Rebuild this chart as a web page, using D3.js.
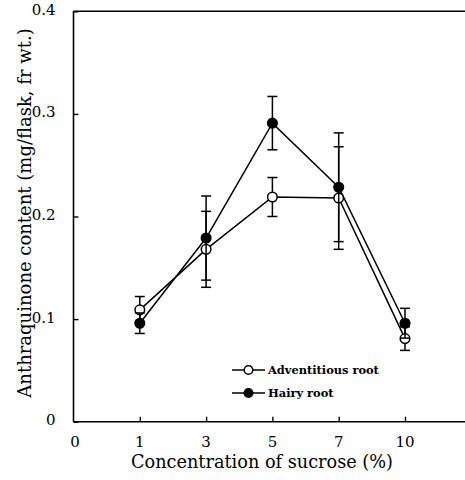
<!DOCTYPE html>
<html><head><meta charset="utf-8">
<script src="https://cdn.jsdelivr.net/npm/d3@7"></script>
<style>body{margin:0;background:#fff}svg{display:block}</style>
</head><body>
<svg id="c" width="465" height="480"></svg>
<script>
const categories = ["0","1","3","5","7","10"];
const dataCats = ["1","3","5","7","10"];
const adventitious = [0.109, 0.168, 0.219, 0.218, 0.081];
const adventitiousErr = [0.013, 0.037, 0.019, 0.050, 0.0115];
const hairy = [0.096, 0.179, 0.291, 0.2285, 0.096];
const hairyErr = [0.010, 0.041, 0.026, 0.053, 0.0145];
const yTicks = [0, 0.1, 0.2, 0.3, 0.4];
const yTickLabels = ["0", "0.1", "0.2", "0.3", "0.4"];

const svg = d3.select("#c");
const font = "'DejaVu Serif', 'Liberation Serif', serif";
const L = 73.5, T = 11.3, B = 421.7, R = 465;
const x = d3.scalePoint().domain(categories).range([L, 405]).padding(0);
const y = d3.scaleLinear().domain([0, 0.4]).range([B, T]);

// frame
svg.append("line").attr("x1", L).attr("x2", R).attr("y1", T).attr("y2", T).attr("stroke", "#000").attr("stroke-width", 1.6);
svg.append("line").attr("x1", L).attr("x2", L).attr("y1", T).attr("y2", B).attr("stroke", "#000").attr("stroke-width", 1.6);

// axes
const xAxis = d3.axisBottom(x).tickValues(dataCats).tickSizeInner(-5).tickSizeOuter(0).tickFormat("");
const gx = svg.append("g").attr("transform", `translate(0,${B})`).call(xAxis);
gx.select(".domain").attr("d", `M${L},0H${R}`).attr("stroke-width", 1.6);
gx.selectAll(".tick line").attr("stroke-width", 1.4);
svg.append("g").selectAll("text").data(categories).join("text")
  .attr("x", d => x(d) + (d === "0" ? 1.5 : 0)).attr("y", 447)
  .attr("text-anchor", "middle").attr("font-family", font).attr("font-size", 15)
  .text(d => d);

const yAxis = d3.axisLeft(y).tickValues(yTicks).tickSizeInner(-5).tickSizeOuter(0).tickFormat((d, i) => yTickLabels[i]).tickPadding(18);
const gy = svg.append("g").attr("transform", `translate(${L},0)`).call(yAxis);
gy.select(".domain").remove();
gy.selectAll(".tick line").attr("stroke-width", 1.4);
gy.selectAll(".tick text").attr("font-family", font).attr("font-size", 15).attr("fill", "#000").attr("dy", "0.2em");

// titles
svg.append("text").attr("x", 262).attr("y", 468).attr("text-anchor", "middle")
  .attr("font-family", font).attr("font-size", 17.7).text("Concentration of sucrose (%)");
svg.append("text").attr("transform", `translate(31,213) rotate(-90)`).attr("text-anchor", "middle")
  .attr("font-family", font).attr("font-size", 18).text("Anthraquinone content (mg/flask, fr wt.)");

function drawSeries(vals, errs, filled) {
  const g = svg.append("g");
  const pts = dataCats.map((c, i) => ({c, v: vals[i], e: errs[i]}));
  // error bars
  pts.forEach(p => {
    const cx = x(p.c);
    g.append("line").attr("x1", cx).attr("x2", cx).attr("y1", y(p.v - p.e)).attr("y2", y(p.v + p.e)).attr("stroke", "#000").attr("stroke-width", 1.5);
    [p.v - p.e, p.v + p.e].forEach(v => {
      g.append("line").attr("x1", cx - 5).attr("x2", cx + 5).attr("y1", y(v)).attr("y2", y(v)).attr("stroke", "#000").attr("stroke-width", 1.5);
    });
  });
  g.append("path").datum(pts).attr("fill", "none").attr("stroke", "#000").attr("stroke-width", 1.5)
    .attr("d", d3.line().x(d => x(d.c)).y(d => y(d.v)));
  g.selectAll("circle").data(pts).join("circle")
    .attr("cx", d => x(d.c)).attr("cy", d => y(d.v)).attr("r", 4.8)
    .attr("fill", filled ? "#000" : "#fff").attr("stroke", "#000").attr("stroke-width", 1.5);
}
drawSeries(adventitious, adventitiousErr, false);
drawSeries(hairy, hairyErr, true);

// legend
const legend = [{name: "Adventitious root", filled: false, y: 370}, {name: "Hairy root", filled: true, y: 393}];
legend.forEach(l => {
  svg.append("line").attr("x1", 232).attr("x2", 265).attr("y1", l.y).attr("y2", l.y).attr("stroke", "#000").attr("stroke-width", 1.5);
  svg.append("circle").attr("cx", 248.5).attr("cy", l.y).attr("r", 4.3).attr("fill", l.filled ? "#000" : "#fff").attr("stroke", "#000").attr("stroke-width", 1.5);
  svg.append("text").attr("x", 268).attr("y", l.y + 4).attr("font-family", font).attr("font-size", 11.4).attr("font-weight", "bold").text(l.name);
});
</script>
</body></html>
